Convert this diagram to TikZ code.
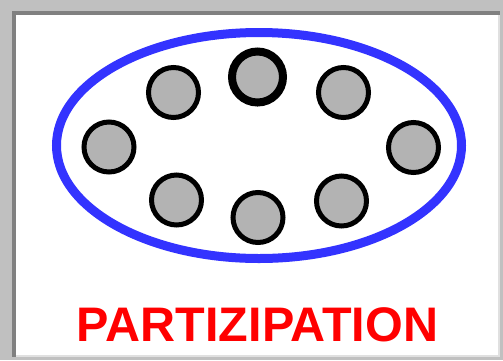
\documentclass[tikz,border=0pt]{standalone}
\usepackage{fontspec}
\setmainfont{Liberation Sans}
\usepackage{tikz}
\usetikzlibrary{positioning,shapes.geometric}
\usepackage{xcolor}
\definecolor{pz1}{RGB}{51,51,255}
\definecolor{pz2}{RGB}{179,179,179}
\definecolor{pz3}{RGB}{192,192,192}
\definecolor{pz4}{RGB}{128,128,128}
\definecolor{pz5}{RGB}{224,224,224}

\begin{document}
\begin{tikzpicture}[
  x=1pt, y=-1pt,
  group/.style={ellipse, draw=pz1, line width=9pt, inner sep=0pt, minimum width=405pt, minimum height=226pt},
  member/.style={circle, draw=black, line width=5pt, fill=pz2, inner sep=0pt, minimum size=50pt},
  lead/.style={member, line width=8pt, minimum size=51pt},
  title/.style={text=red, inner sep=0pt, font=\bfseries\fontsize{48.5}{48.5}\selectfont}
]
% Frame
\fill[pz3] (0,0) rectangle (503,360);
\fill[pz4] (12,11) rectangle (500,357);
\fill[pz5] (16,15) rectangle (500,357);
\fill[white] (16,15) rectangle (498,355);
\useasboundingbox (0,0) rectangle (503,360);

% Group as ellipse
\node[group] (G) at (259,145.5) {};

% Members as circles
\node[member] (m1) at (109,147) {};
\node[member] (m2) at (173.5,92.5) {};
\node[lead]   (m3) at (257.5,77) {};
\node[member] (m4) at (343.5,92.5) {};
\node[member] (m5) at (413.5,147.5) {};
\node[member] (m6) at (341.5,201) {};
\node[member] (m7) at (258,217.5) {};
\node[member] (m8) at (176.5,200) {};

% Caption
\node[title] (T) at (257.5,324.5) {PARTIZIPATION};

\end{tikzpicture}
\end{document}
